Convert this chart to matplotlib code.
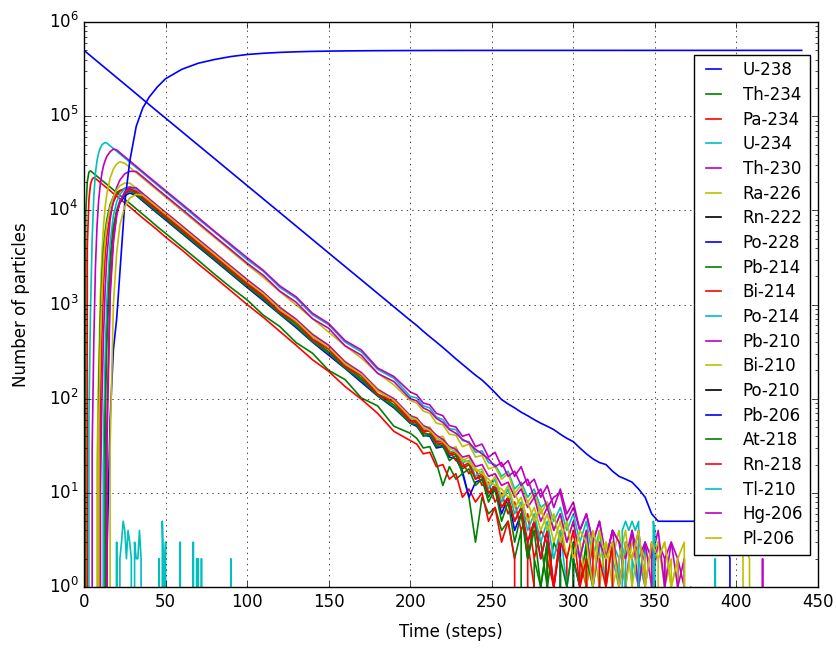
import matplotlib
matplotlib.use('Agg')
import matplotlib.pyplot as plt

plt.style.use('classic')
plt.rcParams['figure.facecolor'] = 'white'
plt.rcParams['savefig.facecolor'] = 'white'

# time grid: 0-14, 16-50, 60-200, then every 4 steps
steps = [0, 1, 2, 3, 4, 5, 6, 7, 8, 9, 10, 11, 12, 13, 14,
         16, 18, 20, 22, 25, 28, 32, 36, 40, 45, 50,
         60, 70, 80, 90, 100, 110, 120, 130, 140, 150, 160, 170, 180, 190, 200,
         204, 208, 212, 216, 220, 224, 228, 232, 236, 240, 244, 248, 252, 256, 260,
         264, 268, 272, 276, 280, 284, 288, 292, 296, 300, 304, 308, 312, 316, 320,
         324, 328, 332, 336, 340, 344, 348, 352, 356, 360, 364, 368, 372, 376, 380,
         384, 388, 392, 396, 400, 404, 408, 412, 416, 420, 424, 428, 432, 436, 440]

n_u238 = [500000, 483700, 467900, 452700, 437900, 423600, 409800, 396500, 383500, 371000, 358900, 347200, 335900, 325000, 314400,
          294200, 275300, 257600, 241100, 218300, 197700, 173000, 151400, 132500, 112300, 95300,
          68600, 49300, 35500, 25500, 18350, 13200, 9500, 6830, 4910, 3530, 2540, 1830, 1315, 946, 680,
          600, 520, 455, 400, 350, 305, 265, 232, 203, 178, 158, 136, 116, 98, 88, 80, 72, 66, 60, 55,
          51, 47, 42, 38, 35, 30, 26, 23, 21, 20, 17, 15, 14, 13, 11, 9, 6,
          5, 5, 5, 5, 5, 5, 5, 5, 5, 5, 5, 2, 0]
n_th234 = [0, 9000, 20000, 25500, 26300, 25400, 24600, 23800, 23000, 22300, 21500, 20800, 20200, 19500, 18900,
           17700, 16500, 15500, 14500, 13100, 11900, 10400, 9100, 7950, 6700, 5700,
           4100, 2950, 2100, 1520, 1120, 770, 585, 395, 305, 200, 160, 102, 84, 51, 43,
           38, 30, 31, 21, 12, 19, 14, 16, 9, 3, 9, 6, 7, 4, 5, 2, 4, 0, 2, 1, 3, 0, 1, 0]
n_pa234 = [0, 0, 4000, 13000, 19000, 21500, 22300, 21800, 21100, 20400, 19700, 19100, 18500, 17900, 17300,
           16200, 15100, 14200, 13300, 12000, 10900, 9500, 8300, 7300, 6200, 5200,
           3800, 2700, 1950, 1400, 1000, 730, 520, 370, 260, 195, 135, 99, 70, 45, 36,
           33, 26, 27, 19, 20, 14, 16, 9, 11, 8, 10, 5, 7, 3, 5, 2, 0, 3, 1, 0, 2, 1, 0]
n_u234 = [0, 0, 0, 60, 900, 5000, 14000, 25000, 34000, 41000, 46000, 49500, 51500, 52500, 51800,
          48500, 45400, 42500, 39800, 36000, 32600, 28500, 25000, 21900, 18500, 15700,
          11300, 8100, 5900, 4200, 3000, 2250, 1520, 1170, 780, 610, 400, 315, 205, 165, 106,
          102, 84, 80, 64, 60, 48, 47, 36, 35, 27, 28, 21, 20, 15, 17, 11, 13, 9, 11, 7,
          8, 5, 7, 4, 6, 3, 5, 2, 4, 1, 3, 2, 0, 2, 1, 3, 0, 1, 0]
n_th230 = [0, 0, 0, 0, 0, 30, 400, 2500, 7000, 13000, 19000, 25000, 30000, 34000, 37500,
           42000, 44800, 43800, 41000, 37100, 33600, 29400, 25700, 22500, 19100, 16200,
           11700, 8400, 6000, 4350, 3150, 2300, 1580, 1210, 810, 630, 415, 330, 212, 172, 118,
           110, 90, 86, 70, 66, 52, 50, 40, 42, 31, 33, 24, 27, 19, 22, 15, 19, 12, 14, 9,
           12, 7, 11, 6, 8, 4, 6, 3, 5, 2, 4, 3, 1, 4, 2, 3, 1, 3, 2, 0, 2, 1, 0]
n_ra226 = [0, 0, 0, 0, 0, 0, 0, 0, 20, 200, 1200, 3500, 7000, 11000, 15000,
           22000, 27500, 31000, 32800, 31600, 28700, 25100, 22000, 19200, 16300, 13800,
           9950, 7150, 5150, 3700, 2660, 1940, 1370, 990, 710, 510, 365, 270, 188, 140, 96,
           90, 74, 70, 55, 53, 42, 41, 31, 33, 24, 25, 18, 19, 14, 16, 10, 12, 8, 10, 6,
           8, 4, 6, 3, 5, 2, 4, 3, 1, 3, 2, 4, 1, 3, 2, 0, 2, 3, 1, 2, 0, 2, 0]
n_rn222 = [0, 0]
n_po228 = [0, 0, 0, 0, 0, 0, 0, 0, 0, 0, 0, 0, 20, 150, 600,
           3000, 6500, 9500, 12000, 14300, 15300, 14400, 12570, 11000, 9320, 7910,
           5690, 4090, 2950, 2120, 1520, 1100, 790, 570, 400, 290, 210, 150, 107, 80, 55,
           51, 41, 40, 30, 31, 24, 23, 17, 9, 13, 14, 10, 11, 6, 9, 4, 6, 3, 5, 2,
           4, 1, 3, 0, 2, 1, 0]
n_pb214 = [0, 0, 0, 0, 0, 0, 0, 0, 0, 120, 700, 2000, 4000, 6000, 8000,
           11500, 14000, 15500, 16300, 16800, 16800, 15200, 13300, 11700, 9900, 8400,
           6040, 4340, 3120, 2240, 1620, 1180, 830, 620, 425, 315, 222, 165, 112, 86, 58,
           55, 43, 42, 32, 34, 25, 26, 18, 20, 14, 15, 9, 12, 7, 9, 5, 7, 2, 5, 3,
           1, 3, 2, 0, 2, 1, 3, 0, 1, 0]
n_bi214 = [0, 0, 0, 0, 0, 0, 0, 0, 0, 0, 80, 500, 1700, 3400, 5300,
           9000, 12200, 14500, 16000, 17200, 17300, 15600, 13600, 11900, 10100, 8580,
           6170, 4440, 3200, 2300, 1650, 1220, 820, 650, 425, 335, 218, 175, 110, 92, 57,
           57, 44, 46, 34, 33, 28, 22, 21, 16, 18, 12, 13, 8, 10, 6, 8, 4, 6, 2, 4,
           3, 1, 4, 2, 0, 2, 1, 3, 0, 2, 0]
n_po214 = [0, 0, 0, 0, 0, 0, 0, 0, 0, 0, 0, 0, 40, 300, 1100,
           4500, 8800, 12300, 14800, 17000, 17900, 16400, 14400, 12600, 10700, 9050,
           6520, 4680, 3370, 2420, 1740, 1270, 890, 660, 455, 345, 236, 178, 122, 94, 63,
           59, 48, 47, 36, 37, 27, 28, 21, 22, 15, 17, 11, 14, 8, 11, 6, 8, 4, 6, 3,
           5, 2, 4, 1, 3, 2, 4, 1, 3, 0, 2, 1, 3, 0, 2, 1, 0]
n_pb210 = [0, 0, 0, 0, 0, 0, 0, 0, 0, 0, 10, 100, 500, 1500, 3200,
           8000, 13000, 17500, 21000, 24500, 26000, 25900, 22700, 19900, 16800, 14300,
           10300, 7400, 5300, 3830, 2750, 2040, 1390, 1060, 710, 560, 365, 290, 186, 152, 100,
           95, 80, 74, 62, 56, 47, 43, 37, 34, 29, 26, 23, 19, 21, 15, 17, 12, 14, 9, 11,
           7, 9, 10, 5, 7, 4, 6, 3, 5, 2, 4, 3, 2, 4, 1, 3, 2, 4, 1, 3, 2, 0, 1, 0]
n_bi210 = [0, 0, 0, 0, 0, 0, 0, 0, 0, 50, 400, 1400, 3000, 5000, 7000,
           10800, 14000, 16500, 18300, 19500, 19500, 17300, 15100, 13200, 11200, 9500,
           6860, 4930, 3550, 2550, 1840, 1330, 950, 690, 490, 365, 250, 186, 128, 98, 66,
           63, 50, 50, 38, 40, 29, 31, 22, 24, 17, 18, 12, 15, 9, 12, 7, 9, 5, 7, 4,
           6, 3, 5, 2, 4, 3, 1, 4, 2, 3, 1, 2, 4, 1, 3, 2, 0, 2, 3, 1, 2, 0]
n_po210 = [0, 0]
n_pb206 = [0, 0, 0, 0, 0, 0, 0, 0, 0, 0, 0, 0, 0, 0, 2,
           60, 330, 700, 2200, 12000, 33000, 78000, 122000, 160000, 205000, 250000,
           315000, 365000, 400000, 430000, 452000, 466000, 476000, 483000, 488000, 491000,
           493500, 495200, 496500, 497400, 498000,
           498300, 498500, 498700, 498900, 499000, 499100, 499200, 499300, 499350, 499400,
           499450, 499500, 499550, 499600, 499640, 499680, 499710, 499740, 499770, 499790,
           499810, 499830, 499850, 499860, 499870, 499880, 499890, 499900, 499910, 499920,
           499930, 499940, 499945, 499950, 499955, 499960, 499965, 499970, 499975, 499980,
           499985, 499990, 499990, 499990, 499995, 499995, 499995, 499995, 499998, 500000,
           500000, 500000, 500000, 500000, 500000, 500000, 500000, 500000, 500000, 500000]
n_at218 = [0, 0, 0, 0, 0, 0, 0, 0, 0, 0, 0, 0, 0, 60, 400,
           2600, 6500, 10000, 12700, 15000, 16000, 14700, 12900, 11300, 9550, 8100,
           5830, 4190, 3020, 2170, 1560, 1140, 800, 590, 405, 305, 212, 158, 108, 82, 55,
           53, 40, 42, 31, 32, 22, 25, 16, 18, 12, 14, 8, 11, 5, 8, 3, 6, 2, 4, 1,
           3, 0, 2, 1, 3, 0, 2, 1, 0]
n_rn218 = [0, 0, 0, 0, 0, 0, 0, 0, 0, 0, 0, 0, 0, 0, 50,
           1500, 5000, 9000, 12300, 15300, 16700, 15900, 13900, 12200, 10300, 8770,
           6310, 4540, 3270, 2350, 1690, 1250, 840, 660, 430, 345, 222, 178, 112, 94, 59,
           58, 46, 45, 35, 35, 26, 27, 19, 21, 14, 16, 10, 12, 7, 9, 5, 7, 3, 5, 2,
           4, 1, 3, 2, 4, 1, 2, 0, 2, 1, 3, 0, 1, 0]
# Tl-210 only shows a few small counts, on its own time points
t_tl210 = [0, 19, 20, 21, 22, 23, 24, 25, 26, 27, 28, 29, 30, 31, 32, 33, 34, 35, 36,
           45, 46, 47, 48, 49, 50, 51, 58, 59, 60, 66, 67, 68, 69, 70, 71, 72, 73,
           89, 90, 91, 328, 330, 332, 334, 336, 338, 340, 342, 348, 349, 350, 351,
           386, 387, 388]
n_tl210 = [0, 0, 3, 0, 2, 3, 5, 4, 2, 4, 3, 2, 0, 3, 2, 2, 4, 2, 0,
           0, 2, 0, 5, 1, 3, 0, 0, 3, 0, 0, 3, 0, 2, 2, 0, 2, 0,
           0, 2, 0, 0, 4, 5, 4, 5, 4, 5, 0, 0, 5, 4, 0,
           0, 2, 0]
n_hg206 = [0, 0, 0, 0, 0, 0, 0, 0, 0, 0, 0, 0, 0, 0, 30,
           1200, 4500, 8800, 12400, 15800, 17600, 17300, 15100, 13200, 11200, 9500,
           6860, 4930, 3550, 2550, 1840, 1350, 930, 700, 480, 370, 245, 190, 125, 100, 66,
           62, 52, 48, 41, 37, 31, 29, 24, 25, 19, 20, 15, 16, 12, 13, 9, 11, 7, 9, 5,
           7, 4, 6, 3, 5, 2, 4, 1, 3, 2, 4, 1, 3, 2, 4, 1, 3, 0, 2, 3, 1, 2, 0,
           0, 0, 0, 0, 0, 0, 0, 0, 0, 0, 2, 0]
n_pl206 = [0, 0, 0, 0, 0, 0, 0, 0, 0, 0, 0, 0, 0, 0, 0,
           30, 1000, 3500, 7000, 11000, 13500, 14800, 14500, 12700, 10800, 9150,
           6590, 4730, 3410, 2450, 1760, 1300, 890, 670, 460, 350, 236, 182, 121, 96, 64,
           60, 50, 46, 39, 35, 30, 27, 23, 21, 18, 16, 14, 12, 11, 9, 10, 7, 8, 5, 7,
           4, 6, 3, 5, 2, 4, 3, 1, 4, 2, 3, 1, 3, 2, 4, 1, 3, 2, 3, 1, 2, 3, 0,
           0, 0, 0, 0, 0, 0, 0, 3, 2, 0]

names = ['U-238', 'Th-234', 'Pa-234', 'U-234', 'Th-230', 'Ra-226', 'Rn-222',
         'Po-228', 'Pb-214', 'Bi-214', 'Po-214', 'Pb-210', 'Bi-210', 'Po-210',
         'Pb-206', 'At-218', 'Rn-218', 'Tl-210', 'Hg-206', 'Pl-206']
counts = [n_u238, n_th234, n_pa234, n_u234, n_th230, n_ra226, n_rn222,
          n_po228, n_pb214, n_bi214, n_po214, n_pb210, n_bi210, n_po210,
          n_pb206, n_at218, n_rn218, n_tl210, n_hg206, n_pl206]

fig, ax = plt.subplots(figsize=(8.36, 6.48), dpi=100)
fig.subplots_adjust(left=0.1005, right=0.9785, top=0.966, bottom=0.094)

for name, n in zip(names, counts):
    if name == 'Tl-210':
        t = t_tl210
    else:
        t = steps[:len(n)]
    ax.plot(t, n, label=name, lw=1.2)

ax.set_yscale('log')
ax.set_xlim(0, 450)
ax.set_ylim(1, 1e6)
ax.set_xlabel('Time (steps)', labelpad=9)
ax.set_ylabel('Number of particles', labelpad=13)
ax.grid(True)
ax.legend(loc='center right', fontsize=12, handlelength=1.5, handletextpad=1.0,
          labelspacing=0.4)

fig.savefig('out.png', dpi=100)
